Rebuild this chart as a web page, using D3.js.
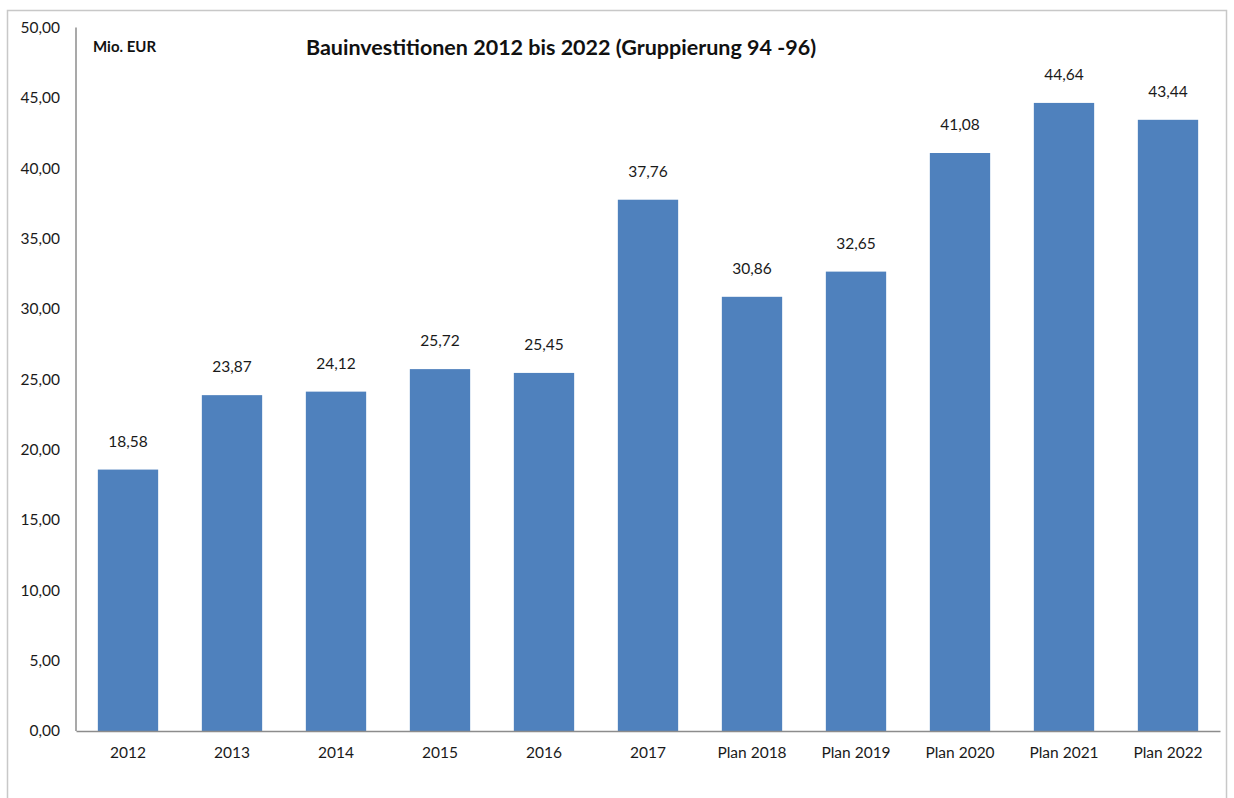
<!DOCTYPE html>
<html><head><meta charset="utf-8">
<script src="https://cdn.jsdelivr.net/npm/d3@7"></script>
<style>body{margin:0;background:#fff;} text{font-family:Lato,"Open Sans",sans-serif;}</style>
</head><body>
<svg id="c" width="1234" height="798"></svg>
<script>
const categories = ["2012","2013","2014","2015","2016","2017","Plan 2018","Plan 2019","Plan 2020","Plan 2021","Plan 2022"];
const values = [18.58,23.87,24.12,25.72,25.45,37.76,30.86,32.65,41.08,44.64,43.44];
const yTicks = [0,5,10,15,20,25,30,35,40,45,50];
const title = "Bauinvestitionen 2012 bis 2022 (Gruppierung 94 -96)";
const unit = "Mio. EUR";

const svg = d3.select("#c");
const fmt = v => d3.format(".2f")(v).replace(".", ",");
svg.append("rect").attr("x",7.5).attr("y",10.5).attr("width",1219).attr("height",790)
  .attr("fill","#fff").attr("stroke","#c8c8c8").attr("stroke-width",1.5);

const pL=76, pR=1220, pT=27.5, pB=731;
const x = d3.scaleBand().domain(categories).range([pL,pR]).paddingInner(0.42).paddingOuter(0.21);
const y = d3.scaleLinear().domain([0,50]).range([pB,pT]);

svg.selectAll("rect.bar").data(values).join("rect").attr("class","bar")
  .attr("x",(d,i)=>x(categories[i])).attr("width",x.bandwidth())
  .attr("y",d=>y(d)).attr("height",d=>y(0)-y(d)).attr("fill","#4f81bd");

svg.selectAll("text.lbl").data(values).join("text").attr("class","lbl")
  .attr("x",(d,i)=>x(categories[i])+x.bandwidth()/2).attr("y",d=>y(d)-23)
  .attr("text-anchor","middle").attr("font-size",15.5).attr("fill","#1a1a1a").text(fmt);

const ya = svg.append("g").attr("transform",`translate(${pL},0)`)
  .call(d3.axisLeft(y).tickValues(yTicks).tickFormat(fmt).tickSize(0).tickPadding(16));
ya.select(".domain").attr("stroke","#8c8c8c").attr("stroke-width",1.5).attr("d",`M0,${pT}V${pB}`);
ya.selectAll("text").attr("font-size",15.5).attr("fill","#1a1a1a").attr("font-family","Lato");

const xa = svg.append("g").attr("transform",`translate(0,${pB})`)
  .call(d3.axisBottom(x).tickSize(0).tickPadding(16));
xa.select(".domain").attr("stroke","#8c8c8c").attr("stroke-width",1.5);
xa.selectAll("text").attr("font-size",15.5).attr("fill","#1a1a1a").attr("font-family","Lato");

svg.append("text").attr("x",561).attr("y",55).attr("text-anchor","middle")
  .attr("font-size",21.5).attr("font-weight","bold").attr("fill","#111").text(title);
svg.append("text").attr("x",93).attr("y",52).attr("font-size",15)
  .attr("font-weight","bold").attr("fill","#111").text(unit);
</script>
</body></html>
